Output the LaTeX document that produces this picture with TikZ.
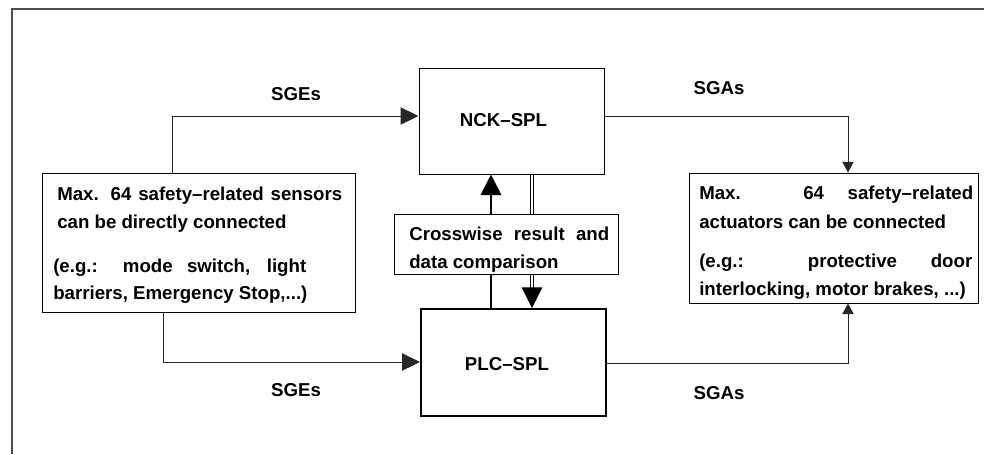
\documentclass[tikz,border=0pt]{standalone}
\usepackage{fontspec}
\setmainfont{Liberation Sans}
\usetikzlibrary{arrows.meta}
\begin{document}
\begin{tikzpicture}[x=0.75pt,y=-0.75pt,
  font=\fontsize{14}{21}\selectfont\bfseries,
  box/.style={draw=black,line width=0.75pt,inner sep=0pt,minimum width=#1},
  txt/.style={anchor=base west,inner sep=0pt},
  lbl/.style={anchor=base,inner sep=0pt},
  conn/.style={draw=black!85,line width=0.75pt},
  bigtip/.style={-{Triangle[length=13.5pt,width=13pt]}},
  smalltip/.style={-{Triangle[length=8pt,width=8.5pt]}},
  vtip/.style={-{Triangle[length=15.5pt,width=15.5pt]}},
  frameline/.style={draw=black!70,line width=1pt}]
\useasboundingbox (0,0) rectangle (984,454);
% frame
\coordinate (ftl) at (12,9);
\coordinate (ftr) at (984,9);
\coordinate (fbl) at (12,454);
\draw[frameline] (fbl) -- (ftl) -- (ftr);
% boxes
\node[box=138.75pt,minimum height=79.5pt] (nck) at (511.5,121) {};
\node[box=138.75pt,minimum height=80.25pt,line width=1.5pt] (plc) at (513.5,362.5) {};
\node[box=168pt,minimum height=45pt] (cross) at (506,244) {};
\node[box=234.75pt,minimum height=104.25pt] (sens) at (198.5,242.5) {};
\node[box=216.75pt,minimum height=97.5pt] (act) at (833.5,238) {};
% box texts
\node[lbl] (nckt) at (503.5,126) {NCK–SPL};
\node[lbl] (plct) at (507,370) {PLC–SPL};
\node[txt] (s1) at (57,200) {\makebox[213.75pt][s]{Max. 64 safety–related sensors}};
\node[txt] (s2) at (57,228) {can be directly connected};
\node[txt] (s3) at (53,272) {\makebox[189.75pt][s]{(e.g.: mode switch, light}};
\node[txt] (s4) at (53,299) {barriers, Emergency Stop,...)};
\node[txt] (a1) at (699,199) {\makebox[205.5pt][s]{Max. 64 safety–related}};
\node[txt] (a2) at (699,228) {actuators can be connected};
\node[txt] (a3) at (699,267) {\makebox[204.75pt][s]{(e.g.: protective door}};
\node[txt] (a4) at (699,295) {interlocking, motor brakes, ...)};
\node[txt] (c1t) at (409,240) {\makebox[150pt][s]{Crosswise result and}};
\node[txt] (c2t) at (409,268) {data comparison};
% labels
\node[lbl] (sgeT) at (296,100) {SGEs};
\node[lbl] (sgaT) at (719,94) {SGAs};
\node[lbl] (sgeB) at (296,396) {SGEs};
\node[lbl] (sgaB) at (719,399) {SGAs};
% connector coordinates
\coordinate (k1) at (172,116);
\coordinate (k2) at (848,116);
\coordinate (k3) at (163,362);
\coordinate (k4) at (848,363);
\coordinate (xl) at (491,0);
\coordinate (xr) at (532,0);
% connectors
\draw[conn,bigtip] (sens.north -| k1) -- (k1) -- (k1 -| nck.west);
\draw[conn,smalltip] (k2 -| nck.east) -- (k2) -- (k2 |- act.north);
\draw[conn,bigtip] (sens.south -| k3) -- (k3) -- (k3 -| plc.west);
\draw[conn,smalltip] (k4 -| plc.east) -- (k4) -- (k4 |- act.south);
\draw[draw=black,line width=1.3pt,vtip] (cross.north -| xl) -- (nck.south -| xl);
\draw[draw=black,line width=1.3pt] (cross.south -| xl) -- (plc.north -| xl);
\draw[draw=black,line width=0.75pt,double,double distance=2pt] (nck.south -| xr) -- (cross.north -| xr);
\draw[draw=black,line width=0.75pt,double,double distance=2pt,vtip] (cross.south -| xr) -- (plc.north -| xr);
\end{tikzpicture}
\end{document}
